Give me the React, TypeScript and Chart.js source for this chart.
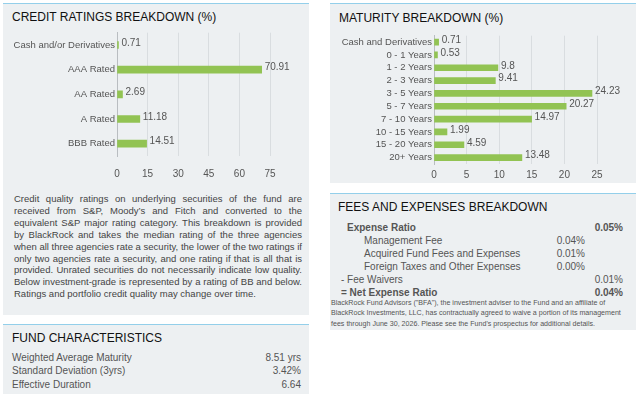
import React, { useEffect, useRef } from "react";
import { Chart, registerables } from "chart.js";

Chart.register(...registerables);

const FONT = "'Liberation Sans', Arial, Helvetica, sans-serif";

const creditCategories = ["Cash and/or Derivatives", "AAA Rated", "AA Rated", "A Rated", "BBB Rated"];
const creditValues = [0.71, 70.91, 2.69, 11.18, 14.51];
const creditTickMax = 75;
const creditTickStep = 15;

const maturityCategories = [
  "Cash and Derivatives",
  "0 - 1 Years",
  "1 - 2 Years",
  "2 - 3 Years",
  "3 - 5 Years",
  "5 - 7 Years",
  "7 - 10 Years",
  "10 - 15 Years",
  "15 - 20 Years",
  "20+ Years",
];
const maturityValues = [0.71, 0.53, 9.8, 9.41, 24.23, 20.27, 14.97, 1.99, 4.59, 13.48];
const maturityTickMax = 25;
const maturityTickStep = 5;

const fundCharLabels = ["Weighted Average Maturity", "Standard Deviation (3yrs)", "Effective Duration"];
const fundCharValues = ["8.51 yrs", "3.42%", "6.64"];

const creditNoteLines = [
  "Credit quality ratings on underlying securities of the fund are",
  "received from S&P, Moody\u2019s and Fitch and converted to the",
  "equivalent S&P major rating category. This breakdown is provided",
  "by BlackRock and takes the median rating of the three agencies",
  "when all three agencies rate a security, the lower of the two ratings if",
  "only two agencies rate a security, and one rating if that is all that is",
  "provided. Unrated securities do not necessarily indicate low quality.",
  "Below investment-grade is represented by a rating of BB and below.",
  "Ratings and portfolio credit quality may change over time.",
];

const feeNoteLines = [
  "BlackRock Fund Advisors (\"BFA\"), the investment adviser to the Fund and an affiliate of",
  "BlackRock Investments, LLC, has contractually agreed to waive a portion of its management",
  "fees through June 30, 2026. Please see the Fund's prospectus for additional details.",
];

const BG = "#edf0f2";
const BLUE = "#93cfea";
const GREEN = "#92c353";
const TEXT = "#555";

const valueLabels = {
  id: "valueLabels",
  afterDatasetsDraw(chart: any) {
    const ctx = chart.ctx;
    const meta = chart.getDatasetMeta(0);
    const data = chart.data.datasets[0].data;
    ctx.save();
    ctx.font = `10px ${FONT}`;
    ctx.fillStyle = TEXT;
    ctx.textBaseline = "middle";
    ctx.textAlign = "left";
    meta.data.forEach((el: any, i: number) => {
      ctx.fillText(String(data[i]), el.x + 3, el.y - 2);
    });
    ctx.restore();
  },
};

type BarProps = {
  labels: string[];
  values: number[];
  max: number;
  step: number;
  width: number;
  height: number;
  yWidth: number;
  xHeight: number;
  padTop: number;
  padRight: number;
  tickPad: number;
  barThickness: number;
  style: React.CSSProperties;
};

function BarChart(p: BarProps) {
  const ref = useRef<HTMLCanvasElement | null>(null);
  useEffect(() => {
    if (!ref.current) return;
    const chart = new Chart(ref.current, {
      type: "bar",
      data: {
        labels: p.labels,
        datasets: [
          {
            data: p.values,
            backgroundColor: GREEN,
            borderWidth: 0,
            barThickness: p.barThickness,
          },
        ],
      },
      options: {
        indexAxis: "y",
        responsive: false,
        animation: false,
        devicePixelRatio: 1,
        layout: { padding: { top: p.padTop, right: p.padRight, left: 0, bottom: 0 } },
        plugins: { legend: { display: false }, tooltip: { enabled: false } },
        scales: {
          x: {
            min: 0,
            max: p.max,
            ticks: { stepSize: p.step, color: TEXT, font: { family: FONT, size: 10 }, padding: p.tickPad },
            grid: { color: "#d9dde0", drawTicks: false, lineWidth: 1 },
            border: { display: false },
            afterFit: (s: any) => {
              s.height = p.xHeight;
            },
          },
          y: {
            ticks: { color: TEXT, font: { family: FONT, size: 9.5 }, padding: 2, autoSkip: false },
            grid: { display: false, drawTicks: false },
            border: { display: true, color: "#b9bdc1", width: 1 },
            afterFit: (s: any) => {
              s.width = p.yWidth;
            },
          },
        },
      },
      plugins: [valueLabels],
    } as any);
    return () => chart.destroy();
  }, []);
  return <canvas ref={ref} width={p.width} height={p.height} style={{ position: "absolute", width: p.width, height: p.height, ...p.style }} />;
}

const box = (left: number, top: number, width: number, height: number): React.CSSProperties => ({
  position: "absolute",
  left,
  top,
  width,
  height,
  background: BG,
  borderTop: `1px solid ${BLUE}`,
  boxSizing: "border-box",
});

const title: React.CSSProperties = {
  position: "absolute",
  fontFamily: FONT,
  fontSize: 12,
  color: "#111",
  lineHeight: "14px",
  whiteSpace: "nowrap",
};

export default function App() {
  const txt: React.CSSProperties = {
    position: "absolute",
    fontFamily: FONT,
    fontSize: 10,
    color: TEXT,
    lineHeight: "13px",
    whiteSpace: "nowrap",
  };
  const feeRows = [
    { label: "Expense Ratio", x: 347, bold: true, value: "0.05%", right: 623 },
    { label: "Management Fee", x: 364, bold: false, value: "0.04%", right: 585 },
    { label: "Acquired Fund Fees and Expenses", x: 364, bold: false, value: "0.01%", right: 585 },
    { label: "Foreign Taxes and Other Expenses", x: 364, bold: false, value: "0.00%", right: 585 },
    { label: "- Fee Waivers", x: 341, bold: false, value: "0.01%", right: 623 },
    { label: "= Net Expense Ratio", x: 341, bold: true, value: "0.04%", right: 623 },
  ];
  return (
    <div style={{ position: "absolute", left: 0, top: 0, width: 640, height: 394, overflow: "hidden", background: "#fff" }}>
      <div style={box(3, 3, 306, 312)} />
      <div style={{ ...title, left: 12, top: 10 }}>CREDIT RATINGS BREAKDOWN (%)</div>
      <BarChart
        labels={creditCategories}
        values={creditValues}
        max={creditTickMax}
        step={creditTickStep}
        width={306}
        height={161}
        yWidth={114}
        xHeight={30}
        padTop={6}
        padRight={39}
        tickPad={12}
        barThickness={7}
        style={{ left: 3, top: 25 }}
      />
      {creditNoteLines.map((line, i) => (
        <div
          key={i}
          style={{
            position: "absolute",
            left: 14,
            top: 193 + i * 11.9,
            width: 288,
            fontFamily: FONT,
            fontSize: 9.5,
            lineHeight: "12px",
            color: "#444",
            whiteSpace: "nowrap",
            textAlign: "justify",
            textAlignLast: i === creditNoteLines.length - 1 ? "left" : "justify",
          }}
        >
          {line}
        </div>
      ))}

      <div style={box(3, 324, 306, 70)} />
      <div style={{ ...title, left: 12, top: 331 }}>FUND CHARACTERISTICS</div>
      {fundCharLabels.map((l, i) => (
        <React.Fragment key={l}>
          <div style={{ ...txt, left: 12, top: 350.5 + i * 13.5 }}>{l}</div>
          <div style={{ ...txt, right: 640 - 301, top: 350.5 + i * 13.5, textAlign: "right" }}>{fundCharValues[i]}</div>
        </React.Fragment>
      ))}

      <div style={box(330, 3, 306, 180)} />
      <div style={{ ...title, left: 339, top: 11 }}>MATURITY BREAKDOWN (%)</div>
      <BarChart
        labels={maturityCategories}
        values={maturityValues}
        max={maturityTickMax}
        step={maturityTickStep}
        width={306}
        height={156}
        yWidth={104}
        xHeight={20}
        padTop={5.5}
        padRight={39}
        tickPad={5}
        barThickness={6}
        style={{ left: 330, top: 28 }}
      />

      <div style={box(330, 193, 306, 137)} />
      <div style={{ ...title, left: 338, top: 200 }}>FEES AND EXPENSES BREAKDOWN</div>
      {feeRows.map((r, i) => (
        <React.Fragment key={r.label}>
          <div style={{ ...txt, left: r.x, top: 220.5 + i * 13, fontWeight: r.bold ? "bold" : "normal" }}>{r.label}</div>
          <div
            style={{
              ...txt,
              right: 640 - r.right,
              top: 220.5 + i * 13,
              textAlign: "right",
              fontWeight: r.bold ? "bold" : "normal",
            }}
          >
            {r.value}
          </div>
        </React.Fragment>
      ))}
      {feeNoteLines.map((line, i) => (
        <div
          key={i}
          style={{
            position: "absolute",
            left: 331,
            top: 298 + i * 10.3,
            fontFamily: FONT,
            fontSize: 7.1,
            lineHeight: "10px",
            color: "#555",
            whiteSpace: "nowrap",
          }}
        >
          {line}
        </div>
      ))}
    </div>
  );
}
